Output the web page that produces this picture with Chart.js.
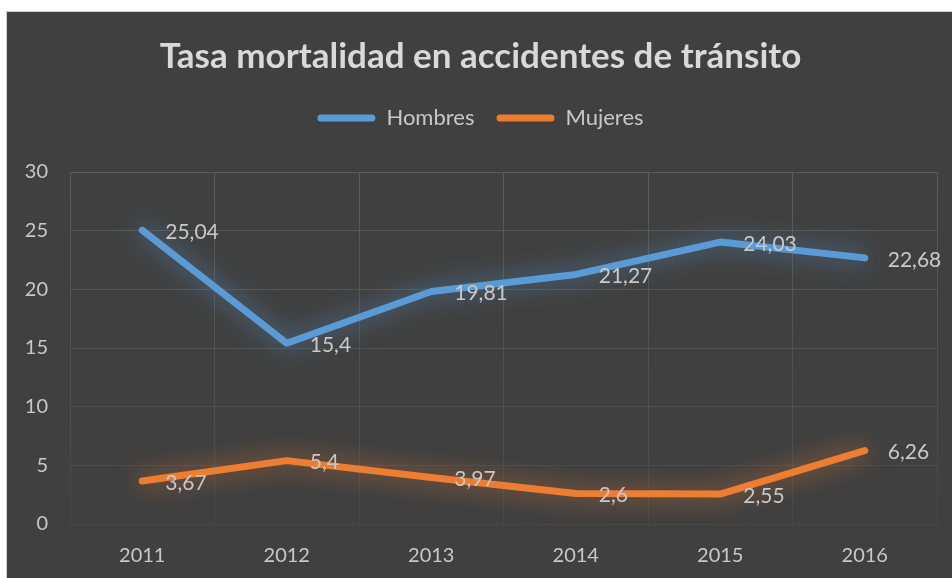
<!DOCTYPE html>
<html>

<head>
    <title>Tasa mortalidad en accidentes de tránsito</title>
    <script src="https://cdn.jsdelivr.net/npm/chart.js"></script>
    <style>
        html, body {
            margin: 0;
            padding: 0;
            background: #ffffff;
            width: 952px;
            height: 578px;
            overflow: hidden;
        }

        #panel {
            position: absolute;
            left: 6px;
            top: 11px;
            width: 945px;
            height: 566px;
            background: #404040;
            border-left: 1px solid #d0d0d0;
            border-top: 1px solid #d0d0d0;
        }
    </style>
</head>

<body>
    <div id="panel">
        <canvas id="myChart" width="945" height="566"></canvas>
    </div>

    <script>
        const years = ['2011', '2012', '2013', '2014', '2015', '2016'];
        const hombres = [25.04, 15.4, 19.81, 21.27, 24.03, 22.68];
        const mujeres = [3.67, 5.4, 3.97, 2.6, 2.55, 6.26];
        const yTicks = [0, 5, 10, 15, 20, 25, 30];

        const textColor = '#c8c8c8';
        const fontFamily = 'Lato, "Open Sans", sans-serif';

        // gridlines fade slightly toward the bottom of the plot
        function gridColor(context) {
            const area = context.chart.chartArea;
            if (!area) return '#595959';
            const g = context.chart.ctx.createLinearGradient(0, area.top, 0, area.bottom);
            g.addColorStop(0, '#5c5c5c');
            g.addColorStop(1, '#484848');
            return g;
        }

        // soft glow under each line
        const glowPlugin = {
            id: 'glow',
            beforeDatasetDraw(chart, args) {
                const ds = chart.data.datasets[args.index];
                chart.ctx.save();
                chart.ctx.shadowColor = ds.glowColor;
                chart.ctx.shadowBlur = 24;
            },
            afterDatasetDraw(chart) {
                chart.ctx.restore();
            }
        };

        // value labels to the right of each point, decimal comma
        const valueLabels = {
            id: 'valueLabels',
            afterDatasetsDraw(chart) {
                const ctx = chart.ctx;
                ctx.save();
                ctx.font = '21px ' + fontFamily;
                ctx.fillStyle = textColor;
                ctx.textAlign = 'left';
                ctx.textBaseline = 'middle';
                chart.data.datasets.forEach((ds, i) => {
                    chart.getDatasetMeta(i).data.forEach((pt, j) => {
                        const txt = String(ds.data[j]).replace('.', ',');
                        ctx.fillText(txt, pt.x + 23, pt.y + 2);
                    });
                });
                ctx.restore();
            }
        };

        const ctx = document.getElementById('myChart').getContext('2d');

        const myChart = new Chart(ctx, {
            type: 'line',
            data: {
                labels: years,
                datasets: [{
                    label: 'Hombres',
                    data: hombres,
                    borderColor: '#5b9bd5',
                    backgroundColor: '#5b9bd5',
                    glowColor: 'rgba(91, 155, 213, 0.75)',
                    borderWidth: 7,
                    borderCapStyle: 'round',
                    borderJoinStyle: 'round',
                    pointRadius: 0,
                    tension: 0
                }, {
                    label: 'Mujeres',
                    data: mujeres,
                    borderColor: '#ed7d31',
                    backgroundColor: '#ed7d31',
                    glowColor: 'rgba(237, 125, 49, 0.75)',
                    borderWidth: 7,
                    borderCapStyle: 'round',
                    borderJoinStyle: 'round',
                    pointRadius: 0,
                    tension: 0
                }]
            },
            options: {
                responsive: false,
                animation: false,
                events: [],
                layout: {
                    padding: { left: 17, right: 15, top: 0, bottom: 0 }
                },
                scales: {
                    x: {
                        offset: true,
                        grid: {
                            offset: true,
                            color: gridColor,
                            lineWidth: 1,
                            drawTicks: false
                        },
                        border: { display: false },
                        ticks: {
                            color: textColor,
                            font: { family: fontFamily, size: 20 },
                            padding: 20
                        },
                        afterFit(scale) {
                            scale.height = 54;
                        }
                    },
                    y: {
                        min: 0,
                        max: 30,
                        afterBuildTicks(scale) {
                            scale.ticks = yTicks.map(v => ({ value: v }));
                        },
                        grid: {
                            color: gridColor,
                            lineWidth: 1,
                            drawTicks: false
                        },
                        border: { display: false },
                        ticks: {
                            color: textColor,
                            font: { family: fontFamily, size: 20 },
                            padding: 22
                        },
                        afterFit(scale) {
                            scale.width = 46;
                        }
                    }
                },
                plugins: {
                    title: {
                        display: true,
                        text: 'Tasa mortalidad en accidentes de tránsito',
                        color: '#d9d9d9',
                        font: { family: fontFamily, size: 35, weight: 'bold' },
                        padding: { top: 24, bottom: 7 }
                    },
                    // empty spacer between the legend and the plot
                    subtitle: {
                        display: true,
                        text: '',
                        weight: 500,
                        font: { size: 10 },
                        padding: { top: 21, bottom: 0 }
                    },
                    legend: {
                        display: true,
                        labels: {
                            color: textColor,
                            font: { family: fontFamily, size: 22 },
                            boxWidth: 58,
                            boxHeight: 7,
                            useBorderRadius: true,
                            borderRadius: 3.5,
                            padding: 22,
                            generateLabels(chart) {
                                const items = Chart.defaults.plugins.legend.labels.generateLabels(chart);
                                items.forEach(it => { it.lineWidth = 0; });
                                return items;
                            }
                        }
                    },
                    tooltip: { enabled: false }
                }
            },
            plugins: [glowPlugin, valueLabels]
        });
    </script>
</body>

</html>
